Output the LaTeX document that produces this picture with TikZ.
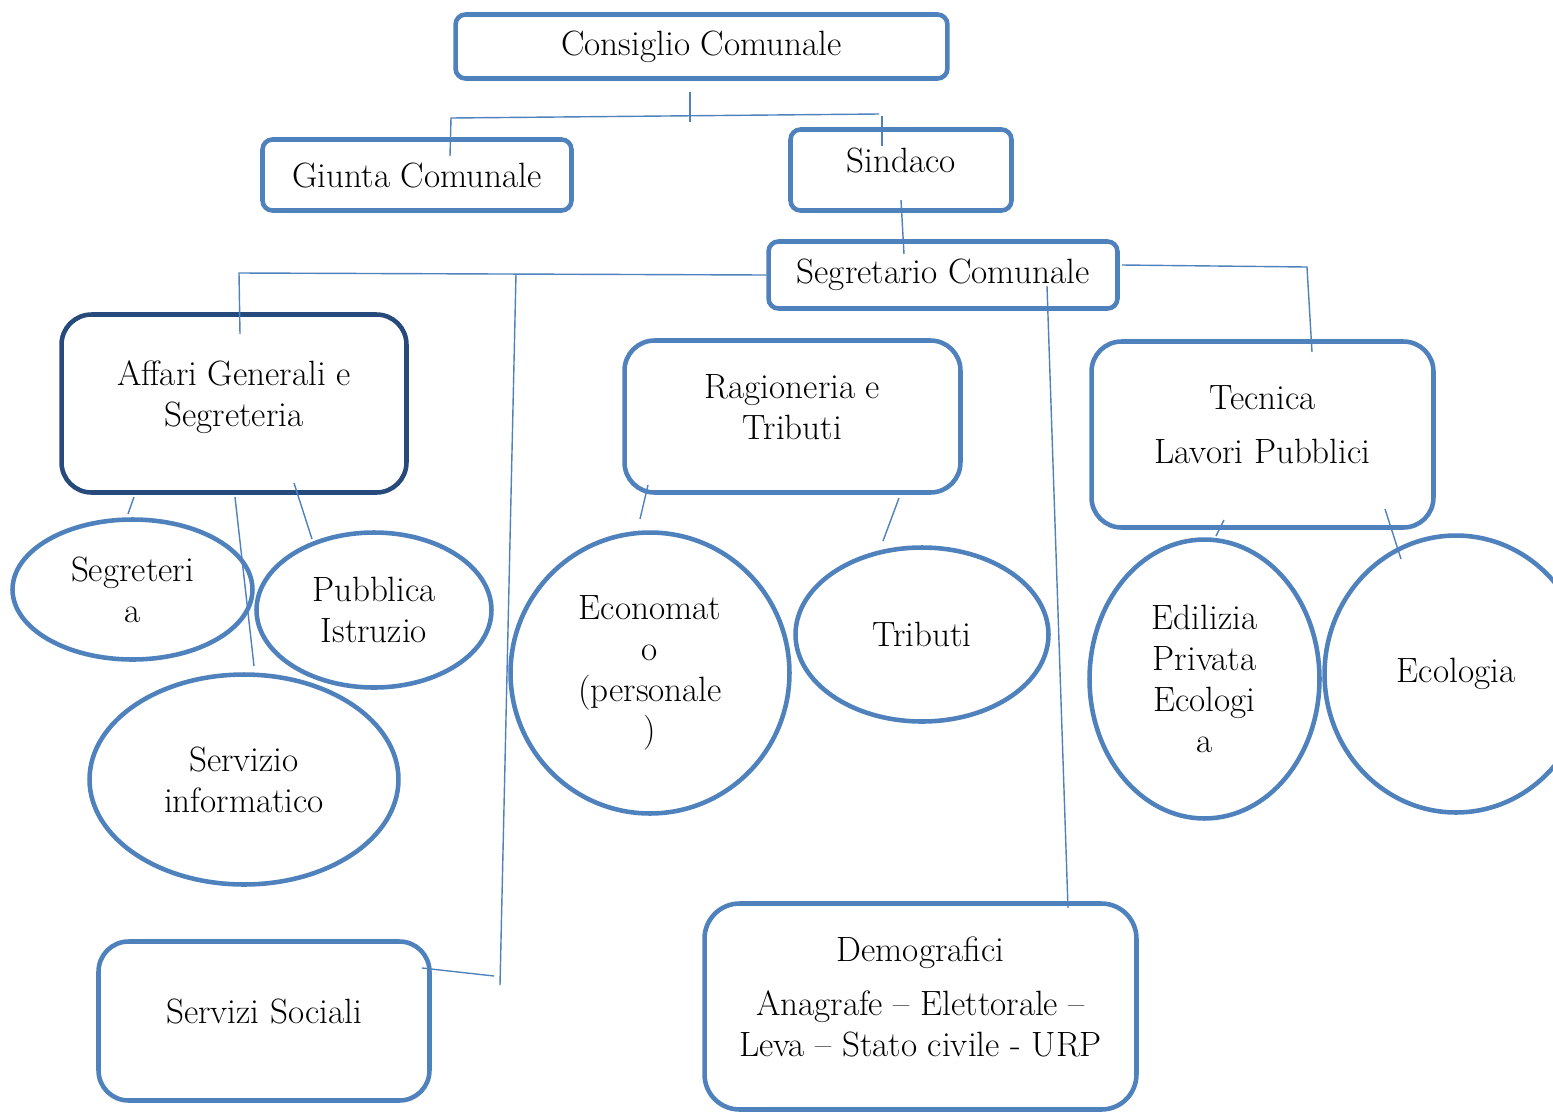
\documentclass[tikz,border=0pt]{standalone}
\usetikzlibrary{shapes.geometric}
\definecolor{boxblue}{RGB}{79,129,189}
\definecolor{navyline}{RGB}{38,74,124}
% extra room under the last line, so the text sits high in the box
\newcommand{\droop}{\rule[-11pt]{0pt}{0pt}}
\begin{document}
\begin{tikzpicture}[x=0.02cm,y=-0.02cm,
    box/.style={draw=boxblue, line width=2.6pt, rounded corners=0.2cm, align=center,
        font=\fontsize{20}{23.3}\selectfont, inner sep=0pt},
    bigbox/.style={box, rounded corners=0.6cm},
    oval/.style={ellipse, draw=boxblue, line width=2.6pt, align=center,
        font=\fontsize{20}{23.3}\selectfont, inner sep=0pt},
    link/.style={draw=boxblue, line width=0.8pt}]
    \useasboundingbox (0,0) rectangle (1553,1113);

    % Top of the chart
    \node[box, minimum width=9.84cm, minimum height=1.28cm] (consiglio) at (701.5,46.5) {Consiglio Comunale};
    \node[box, minimum width=6.18cm, minimum height=1.42cm] (giunta) at (417,175) {Giunta Comunale};
    \node[box, minimum width=4.42cm, minimum height=1.62cm] (sindaco) at (901,170) {Sindaco\droop};
    \node[box, minimum width=6.98cm, minimum height=1.34cm] (segretario) at (943,275) {Segretario Comunale};

    % Areas
    \node[bigbox, draw=navyline, minimum width=6.9cm, minimum height=3.56cm] (affari) at (234,403.5) {Affari Generali e\\Segreteria\droop};
    \node[bigbox, minimum width=6.72cm, minimum height=3.04cm] (ragioneria) at (792.5,416.5) {Ragioneria e\\Tributi\droop};
    \node[bigbox, minimum width=6.84cm, minimum height=3.72cm] (tecnica) at (1262.5,434.5) {Tecnica\\[0.26cm]Lavori Pubblici\droop};
    \node[bigbox, minimum width=6.62cm, minimum height=3.18cm] (sociali) at (264,1021) {Servizi Sociali\droop};
    \node[bigbox, rounded corners=0.7cm, minimum width=8.64cm, minimum height=4.12cm] (demografici) at (920.5,1006.5)
        {Demografici\\[0.26cm]Anagrafe -- Elettorale --\\Leva -- Stato civile - URP\droop};

    % Offices
    \node[oval, minimum width=4.8cm, minimum height=2.8cm] (segreteria) at (132.5,589.5) {Segreteri\\a};
    \node[oval, minimum width=4.7cm, minimum height=3.1cm] (istruzione) at (374,610) {Pubblica\\Istruzio};
    \node[oval, minimum width=6.18cm, minimum height=4.2cm] (informatico) at (244,779.5) {Servizio\\informatico};
    \node[oval, minimum width=5.58cm, minimum height=5.62cm] (economato) at (650,673) {Economat\\o\\(personale\\)};
    \node[oval, minimum width=5.06cm, minimum height=3.48cm] (tributi) at (922,634.5) {Tributi};
    \node[oval, minimum width=4.6cm, minimum height=5.58cm] (edilizia) at (1204.5,679) {Edilizia\\Privata\\Ecologi\\a};
    \node[oval, minimum width=5.26cm, minimum height=5.54cm] (ecologia) at (1456,674) {Ecologia};

    % Connector ends
    \coordinate (stem-a) at (690,92);
    \coordinate (stem-b) at (690,122);
    \coordinate (giunta-a) at (450,156);
    \coordinate (bar-l) at (451,118);
    \coordinate (bar-r) at (879,114);
    \coordinate (sindaco-a) at (882,116);
    \coordinate (sindaco-b) at (882,146);
    \coordinate (segretario-a) at (901,200);
    \coordinate (segretario-b) at (904,254);
    \coordinate (affari-bend) at (239,273);
    \coordinate (affari-a) at (240,334);
    \coordinate (sociali-top) at (516,274);
    \coordinate (sociali-bot) at (500,985);
    \coordinate (sociali-a) at (494,976);
    \coordinate (sociali-b) at (422,968);
    \coordinate (tecnica-s) at (1122,265);
    \coordinate (tecnica-bend) at (1307,267);
    \coordinate (tecnica-a) at (1312,352);
    \coordinate (demografici-s) at (1047,286);
    \coordinate (demografici-a) at (1068,908);

    \draw[link] (stem-a) -- (stem-b);
    \draw[link] (giunta-a) -- (bar-l) -- (bar-r);
    \draw[link] (sindaco-a) -- (sindaco-b);
    \draw[link] (segretario-a) -- (segretario-b);
    \draw[link] (segretario.west) -- (affari-bend) -- (affari-a);
    \draw[link] (sociali-top) -- (sociali-bot);
    \draw[link] (sociali-a) -- (sociali-b);
    \draw[link] (tecnica-s) -- (tecnica-bend) -- (tecnica-a);
    \draw[link] (demografici-s) -- (demografici-a);

    % Short ties from the areas to their offices
    \coordinate (segreteria-a) at (134,497);
    \coordinate (segreteria-b) at (128,514);
    \coordinate (informatico-a) at (235,497);
    \coordinate (informatico-b) at (254,666);
    \coordinate (istruzione-a) at (294,483);
    \coordinate (istruzione-b) at (312,539);
    \coordinate (economato-a) at (648,485);
    \coordinate (economato-b) at (640,519);
    \coordinate (tributi-a) at (899,498);
    \coordinate (tributi-b) at (883,541);
    \coordinate (edilizia-a) at (1224,520);
    \coordinate (edilizia-b) at (1216,536);
    \coordinate (ecologia-a) at (1385,509);
    \coordinate (ecologia-b) at (1401,559);
    \foreach \office in {segreteria,informatico,istruzione,economato,tributi,edilizia,ecologia} {
        \draw[link] (\office-a) -- (\office-b);
    }

\end{tikzpicture}
\end{document}
